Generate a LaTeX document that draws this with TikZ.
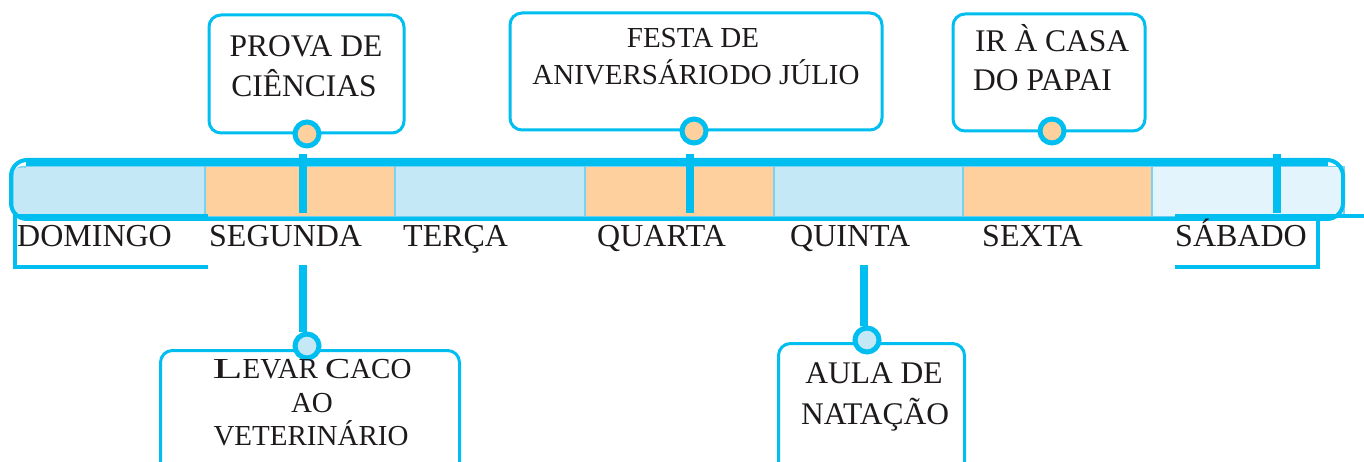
\documentclass[tikz,border=0pt]{standalone}
\usepackage{fontspec}
\setmainfont{Liberation Serif}
\definecolor{cy}{RGB}{0,190,240}
\definecolor{cyl}{RGB}{120,210,242}
\definecolor{lb}{RGB}{197,232,247}
\definecolor{vlb}{RGB}{228,244,252}
\definecolor{org}{RGB}{253,208,157}
\definecolor{txt}{RGB}{30,26,27}
\begin{document}
\begin{tikzpicture}[x=1pt,y=-1pt,
  cell/.style={draw=cyl, line width=1.5pt, minimum height=50pt, inner sep=0pt, anchor=north west},
  evbox/.style={draw=cy, line width=3pt, rounded corners=12pt, fill=white},
  dot/.style={circle, draw=cy, line width=5pt, minimum size=24pt, inner sep=0pt},
  pin/.style={draw=cy, line width=8pt},
  bracket/.style={draw=cy, line width=4.5pt},
  day/.style={anchor=base west, inner sep=0pt, text=txt, font=\fontsize{32}{38}\selectfont},
  ev/.style={anchor=base, inner sep=0pt, text=txt}
]
\useasboundingbox (0,0) rectangle (1364,462);
\clip (0,0) rectangle (1364,462);
% cells
\node[cell, fill=lb, minimum width=192pt, rounded corners=10pt] (c0) at (12,166) {};
\node[cell, fill=lb, minimum width=180pt] (c0b) at (24,166) {};
\node[cell, fill=org, minimum width=190pt] (c1) at (204,166) {};
\node[cell, fill=lb, minimum width=190pt] (c2) at (394,166) {};
\node[cell, fill=org, minimum width=189pt] (c3) at (584,166) {};
\node[cell, fill=lb, minimum width=189pt] (c4) at (773,166) {};
\node[cell, fill=org, minimum width=189pt] (c5) at (962,166) {};
\node[cell, fill=vlb, minimum width=192pt] (c6) at (1151,166) {};
\fill[lb] (14,168) rectangle (202,214);
% bar outline
\draw[cy, line width=4pt, rounded corners=16pt] (11,160) rectangle (1343,219);
\draw[cy, line width=6pt] (26,163) -- (1328,163);
% brackets
\coordinate (bl1) at (208,216);
\coordinate (bl2) at (208,267);
\coordinate (br1) at (1364,216);
\coordinate (br2) at (1175,267);
\draw[bracket] (bl1) -- (15,216) -- (15,267) -- (bl2);
\draw[bracket] (1175,216) -- (br1);
\draw[bracket] (1318,216) -- (1318,267) -- (br2);
% day labels
\node[day] (dom) at (17,247) {DOMINGO};
\node[day] (seg) at (209,247) {SEGUNDA};
\node[day] (ter) at (403,247) {TERÇA};
\node[day] (qua) at (597,247) {QUARTA};
\node[day] (qui) at (790,247) {QUINTA};
\node[day] (sex) at (982,247) {SEXTA};
\node[day] (sab) at (1175,247) {SÁBADO};
% top event boxes
\node[evbox, minimum width=195pt, minimum height=118pt] (prova) at (306.5,74) {};
\node[evbox, minimum width=372pt, minimum height=117pt] (festa) at (696,71.5) {};
\node[evbox, minimum width=192pt, minimum height=117pt] (casa) at (1049,72.5) {};
% bottom event boxes
\node[evbox, minimum width=299pt, minimum height=140pt, anchor=north west] (levar) at (159,349) {};
\node[evbox, minimum width=186pt, minimum height=140pt, anchor=north west] (aula) at (777,342) {};
% pins
\coordinate (p1t) at (303,154);
\coordinate (p1b) at (303,213);
\coordinate (p2t) at (690,154);
\coordinate (p2b) at (690,213);
\coordinate (p3t) at (1277,154);
\coordinate (p3b) at (1277,213);
\coordinate (p4t) at (303,265);
\coordinate (p5t) at (864,265);
\draw[pin] (p1t) -- (p1b);
\draw[pin] (p2t) -- (p2b);
\draw[pin] (p3t) -- (p3b);
% dots
\node[dot, fill=org] (d1) at (307,134) {};
\node[dot, fill=org] (d2) at (694,131) {};
\node[dot, fill=org] (d3) at (1052,131) {};
\node[dot, fill=lb] (d4) at (307,346) {};
\node[dot, fill=lb] (d5) at (867,340) {};
\draw[pin] (p4t) -- (d4.north -| p4t);
\draw[pin] (p5t) -- (d5.north -| p5t);
% texts
\begin{scope}[font=\fontsize{31.5}{38}\selectfont]
\node[ev] (t1a) at (306,57) {PROVA DE};
\node[ev] (t1b) at (304,97) {CIÊNCIAS};
\node[ev, anchor=base west] (t3a) at (975,52) {IR À CASA};
\node[ev, anchor=base west] (t3b) at (973,91) {DO PAPAI};
\node[ev] (t5a) at (874,383) {AULA DE};
\node[ev] (t5b) at (875,424) {NATAÇÃO};
\end{scope}
\begin{scope}[font=\fontsize{29}{36}\selectfont]
\node[ev] (t2a) at (693,48) {FESTA DE};
\node[ev] (t2b) at (696,85) {ANIVERSÁRIO\kern1pt DO JÚLIO};
\node[ev] (t4a) at (312,378) {\scalebox{1.7}[1]{L}EVAR \scalebox{1.3}[1]{C}ACO};
\node[ev] (t4b) at (312,412) {AO};
\node[ev] (t4c) at (311,445) {VETERINÁRIO};
\end{scope}
\end{tikzpicture}
\end{document}
